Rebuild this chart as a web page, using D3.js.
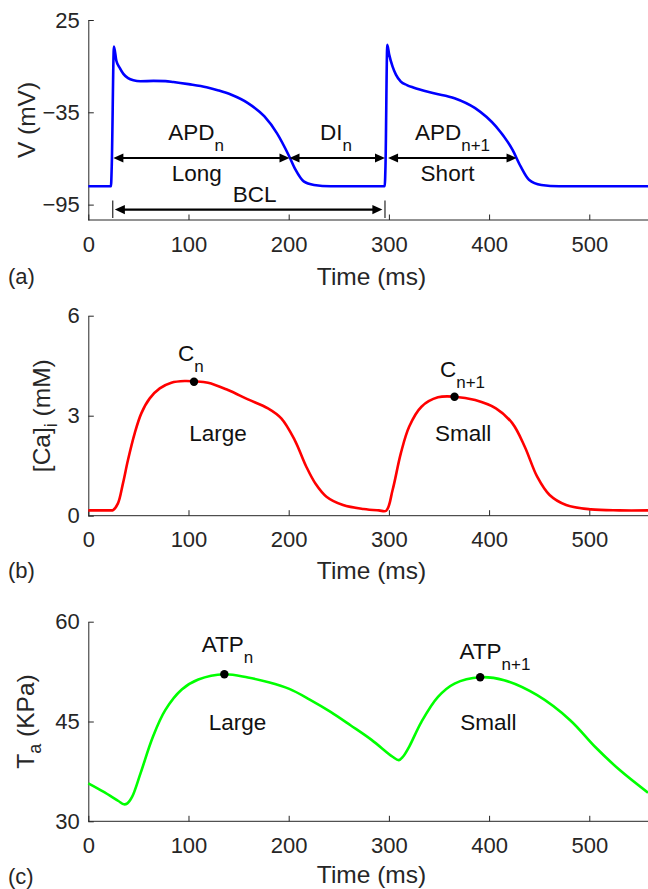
<!DOCTYPE html>
<html><head><meta charset="utf-8">
<script src="https://cdn.jsdelivr.net/npm/d3@7"></script>
<style>
body{margin:0;background:#fff}
svg{display:block}
text{font-family:"Liberation Sans",Arial,Helvetica,sans-serif;white-space:pre}
</style>
</head><body>
<svg id="chart" width="648" height="889"></svg>
<script>
// ---------- data ----------
const timeTicks = [0, 100, 200, 300, 400, 500];
const vTicks = [-95, -35, 25];
const caTicks = [0, 3, 6];
const taTicks = [30, 45, 60];

// (a) membrane potential V (mV)
const vTime = [0, 22.6, 23.4, 25.6, 28, 31.5, 35, 39.7, 45, 52, 65, 77, 85, 100, 118, 130, 142.8, 159.3, 175.8, 188.2, 200.6, 206.8, 215, 225.3, 241.8,
  295.8, 296.6, 298.4, 300.3, 303.7, 307, 311.9, 318, 324.3, 344.9, 365.5, 386.1, 406.8, 423.3, 431.5, 439.8, 452.2, 470, 558.6];
const vValues = [-83.1, -83.1, -70, 7.7, -1.5, -6.3, -10, -12.8, -14.2, -14.8, -14.6, -14.7, -15.3, -16.7, -18.7, -20.8, -23.6, -29.0, -37.7, -48.5, -63.7, -72.3, -79.9, -82.2, -83.1,
  -83.1, -70, 8.8, 2.5, -5.3, -10.5, -15, -17.3, -18.9, -22.6, -25.8, -32.3, -44.2, -59.3, -70.2, -78.8, -82.2, -83.1, -83.1];

// (b) intracellular calcium [Ca]i (mM)
const caTime = [0, 12, 22, 24.7, 29.6, 34.6, 39.6, 46.3, 52.9, 61.3, 71.3, 82.9, 96.2, 105.5, 119.5, 139.4, 159.4, 179.3, 192.6, 206, 217.6, 227, 237.7, 254.2, 274.8, 290, 297.3,
  303.7, 311.9, 320.2, 332.5, 349, 365.5, 386.1, 406.8, 423.3, 435.6, 448, 460.4, 476.9, 501.6, 530, 558.6];
const caValues = [0.16, 0.16, 0.16, 0.17, 0.37, 0.97, 1.67, 2.47, 3.07, 3.52, 3.82, 3.99, 4.04, 4.03, 3.99, 3.77, 3.49, 3.22, 2.92, 2.27, 1.47, 0.95, 0.57, 0.32, 0.2, 0.16, 0.15,
  0.77, 1.87, 2.67, 3.27, 3.55, 3.57, 3.47, 3.22, 2.77, 2.07, 1.17, 0.62, 0.32, 0.19, 0.16, 0.16];

// (c) active tension Ta (KPa)
const taTime = [0, 15, 30, 35.6, 39, 43.8, 52.1, 64.5, 76.8, 93.3, 109.8, 135.8, 159.3, 180, 200.6, 221, 241.8, 262, 283, 303.7, 309.9, 314, 320.2, 332.5, 349, 365.5, 391.1, 415, 448, 480.9, 505.7, 530.4, 558.6];
const taValues = [35.7, 34.45, 33.05, 32.55, 32.7, 33.7, 37.2, 42.7, 46.7, 49.8, 51.3, 52.1, 51.6, 50.9, 49.9, 48.3, 46.45, 44.4, 42.2, 39.7, 39.2, 39.7, 41.2, 44.95, 48.7, 50.7, 51.65, 51.2, 48.95, 45.2, 41.2, 37.7, 34.3];

// marked peaks
const caPeakTime = [105.5, 365.5];
const caPeakValue = [4.02, 3.57];
const taPeakTime = [135.8, 391.1];
const taPeakValue = [52.1, 51.65];

// interval arrows in panel (a): [start ms, end ms]
const apdArrows = [[25.0, 200.8], [200.8, 296.1], [299.2, 427.4]];
const arrowLevel = -64.7;
const bclArrow = [26.5, 293.5];
const bclBars = [24.4, 296.1];
const bclLevel = -98.2;

// ---------- layout ----------
const svg = d3.select("#chart");
const ink = "#262626";
const x = d3.scaleLinear().domain([0, 558.6]).range([88.3, 648]);

const panels = [
  {id: "a", domain: [-105, 25], range: [220, 20], ticks: vTicks, t: vTime, v: vValues, color: "#0000ff",
   curve: d3.curveMonotoneX, ylab: [{s: "V (mV)"}], ylabX: 35, timeY: 284.5, tagY: 284},
  {id: "b", domain: [0, 6], range: [515.7, 315.7], ticks: caTicks, t: caTime, v: caValues, color: "#ff0000",
   curve: d3.curveCatmullRom.alpha(0.5), ylab: [{s: "[Ca]"}, {s: "i", sub: true}, {s: "\u00a0(mM)"}], ylabX: 49.5, timeY: 578.5, tagY: 578},
  {id: "c", domain: [30, 60], range: [821.3, 621.7], ticks: taTicks, t: taTime, v: taValues, color: "#00ff00",
   curve: d3.curveCatmullRom.alpha(0.5), ylab: [{s: "T"}, {s: "a", sub: true}, {s: "\u00a0(KPa)"}], ylabX: 34, timeY: 883, tagY: 884}
];

panels.forEach(p => {
  const y = d3.scaleLinear().domain(p.domain).range(p.range);
  p.y = y;
  const g = svg.append("g");

  // axes (MATLAB style: inward ticks, no box)
  const xa = g.append("g").attr("transform", `translate(0,${p.range[0]})`)
    .call(d3.axisBottom(x).tickValues(timeTicks).tickFormat(d3.format("d")).tickSizeInner(-5.5).tickSizeOuter(0).tickPadding(16));
  const ya = g.append("g").attr("transform", `translate(${x.range()[0]},0)`)
    .call(d3.axisLeft(y).tickValues(p.ticks).tickFormat(d3.format("d")).tickSizeInner(-5.5).tickSizeOuter(0).tickPadding(8.5));
  [xa, ya].forEach(a => {
    a.select(".domain").attr("stroke", ink).attr("stroke-width", 1);
    a.selectAll(".tick line").attr("stroke", ink).attr("stroke-width", 1);
    a.selectAll(".tick text").attr("fill", ink).attr("font-size", 22)
      .attr("font-family", '"Liberation Sans",Arial,Helvetica,sans-serif');
  });
  xa.select(".domain").attr("d", `M${x.range()[0]},0H${x.range()[1]}`);

  // curve
  const line = d3.line().x((d, i) => x(p.t[i])).y((d, i) => y(p.v[i])).curve(p.curve);
  g.append("path").datum(p.v).attr("d", line).attr("fill", "none")
    .attr("stroke", p.color).attr("stroke-width", 2.6).attr("stroke-linejoin", "round");

  // labels
  g.append("text").attr("x", 371.5).attr("y", p.timeY).attr("text-anchor", "middle")
    .attr("font-size", 24.5).attr("fill", ink).text("Time (ms)");
  g.append("text").attr("x", 8).attr("y", p.tagY).attr("font-size", 22).attr("fill", ink).text(`(${p.id})`);
  const yl = g.append("text").attr("text-anchor", "middle").attr("font-size", 24.5).attr("fill", ink)
    .attr("transform", `translate(${p.ylabX},${(p.range[0] + p.range[1]) / 2}) rotate(-90)`);
  p.ylab.forEach((q, i) => {
    const ts = yl.append("tspan").text(q.s);
    if (q.sub) ts.attr("font-size", 18).attr("dy", 7);
    else if (i > 0 && p.ylab[i - 1].sub) ts.attr("dy", -7);
  });
});

// ---------- annotations ----------
const [pa, pb, pc] = panels;
const ga = svg.append("g");

function arrowHead(g, tipX, yy, dir) {
  const L = 10, W = 4.6;
  g.append("path").attr("d", `M${tipX},${yy}L${tipX - dir * L},${yy - W}L${tipX - dir * L},${yy + W}Z`)
    .attr("fill", "#000");
}
function dblArrow(g, x1, x2, yy) {
  g.append("line").attr("x1", x1 + 6).attr("x2", x2 - 6).attr("y1", yy).attr("y2", yy)
    .attr("stroke", "#000").attr("stroke-width", 2.2);
  arrowHead(g, x1, yy, -1);
  arrowHead(g, x2, yy, 1);
}
apdArrows.forEach(a => dblArrow(ga, x(a[0]), x(a[1]), pa.y(arrowLevel)));
dblArrow(ga, x(bclArrow[0]), x(bclArrow[1]), pa.y(bclLevel));
bclBars.forEach(t => ga.append("line").attr("x1", x(t)).attr("x2", x(t))
  .attr("y1", pa.y(bclLevel) - 9).attr("y2", pa.y(bclLevel) + 8.5)
  .attr("stroke", ink).attr("stroke-width", 1.2));

function label(g, px, py, parts, anchor) {
  const t = g.append("text").attr("x", px).attr("y", py).attr("font-size", 22.5).attr("fill", "#111")
    .attr("text-anchor", anchor || "start");
  parts.forEach(q => {
    const ts = t.append("tspan").text(q.s);
    if (q.sub) ts.attr("font-size", 17).attr("dy", 11);
  });
}
// panel (a)
label(ga, x(79.8), pa.y(-53.3), [{s: "APD"}, {s: "n", sub: true}]);
label(ga, x(231.2), pa.y(-53.3), [{s: "DI"}, {s: "n", sub: true}]);
label(ga, x(326), pa.y(-53.3), [{s: "APD"}, {s: "n+1", sub: true}]);
label(ga, x(108.2), pa.y(-79.8), [{s: "Long"}], "middle");
label(ga, x(358.5), pa.y(-79.8), [{s: "Short"}], "middle");
label(ga, x(165.9), pa.y(-93.5), [{s: "BCL"}], "middle");

// panel (b)
const gb = svg.append("g");
caPeakTime.forEach((t, i) => gb.append("circle").attr("cx", x(t)).attr("cy", pb.y(caPeakValue[i])).attr("r", 4.2).attr("fill", "#000"));
label(gb, x(89.5), pb.y(4.65), [{s: "C"}, {s: "n", sub: true}]);
label(gb, x(351), pb.y(4.17), [{s: "C"}, {s: "n+1", sub: true}]);
label(gb, x(129.4), pb.y(2.25), [{s: "Large"}], "middle");
label(gb, x(374.2), pb.y(2.25), [{s: "Small"}], "middle");

// panel (c)
const gc = svg.append("g");
taPeakTime.forEach((t, i) => gc.append("circle").attr("cx", x(t)).attr("cy", pc.y(taPeakValue[i])).attr("r", 4.2).attr("fill", "#000"));
label(gc, x(113.2), pc.y(55.44), [{s: "ATP"}, {s: "n", sub: true}]);
label(gc, x(370.5), pc.y(54.45), [{s: "ATP"}, {s: "n+1", sub: true}]);
label(gc, x(149), pc.y(43.7), [{s: "Large"}], "middle");
label(gc, x(399.4), pc.y(43.7), [{s: "Small"}], "middle");
</script>
</body></html>
